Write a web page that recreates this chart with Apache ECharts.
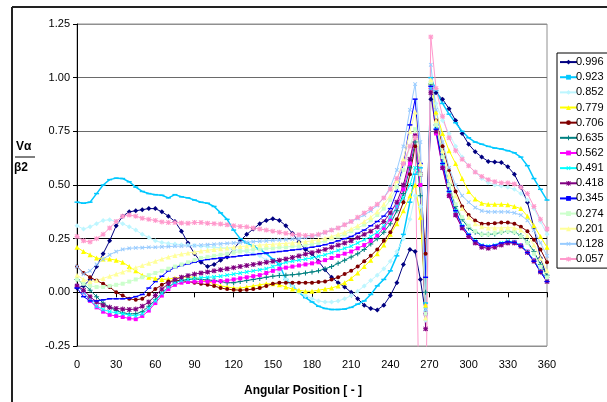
<!DOCTYPE html>
<html><head><meta charset="utf-8">
<script src="https://cdn.jsdelivr.net/npm/echarts@6/dist/echarts.min.js"></script>
<style>html,body{margin:0;padding:0;background:#fff}#c{width:607px;height:402px}</style>
</head><body><div id="c"></div>
<script>
const angles = [0,5,10,15,20,25,30,35,40,45,50,55,60,65,70,75,80,85,90,95,100,105,110,115,120,125,130,135,140,145,150,155,160,165,170,175,180,185,190,195,200,205,210,215,220,225,230,235,240,245,250,255,259,263,267,271,275,280,285,290,295,300,305,310,315,320,325,330,335,340,345,350,355,360];
const seriesNames = ['0.996','0.923','0.852','0.779','0.706','0.635','0.562','0.491','0.418','0.345','0.274','0.201','0.128','0.057'];
const yTicks = [-0.25,0,0.25,0.5,0.75,1,1.25];
const xTicks = [0,30,60,90,120,150,180,210,240,270,300,330,360];

const v0996 = [0.02,0.03,0.06,0.12,0.18,0.24,0.31,0.355,0.375,0.38, 0.385,0.39,0.39,0.375,0.355,0.33,0.285,0.23,0.18,0.14, 0.12,0.13,0.15,0.165,0.2,0.24,0.27,0.295,0.32,0.335, 0.343,0.335,0.31,0.275,0.235,0.2,0.18,0.145,0.105,0.07, 0.045,0.025,0.0,-0.03,-0.06,-0.075,-0.082,-0.06,-0.015,0.045, 0.13,0.2,0.19,0.06,-0.1,0.9,0.93,0.9,0.855,0.8, 0.74,0.69,0.655,0.63,0.61,0.607,0.605,0.585,0.55,0.49, 0.42,0.3,0.16,0.07];
const v0923 = [0.42,0.415,0.42,0.46,0.5,0.525,0.532,0.53,0.515,0.49, 0.47,0.46,0.455,0.452,0.44,0.455,0.445,0.44,0.43,0.42, 0.415,0.4,0.37,0.34,0.29,0.25,0.23,0.215,0.2,0.18, 0.155,0.13,0.06,0.03,0.0,-0.025,-0.045,-0.065,-0.075,-0.08, -0.08,-0.078,-0.07,-0.055,-0.04,-0.01,0.03,0.06,0.1,0.17, 0.27,0.42,0.55,0.58,-0.05,1.0,0.94,0.88,0.83,0.79, 0.75,0.72,0.7,0.69,0.68,0.672,0.668,0.66,0.65,0.63, 0.59,0.53,0.48,0.43];
const v0852 = [0.31,0.295,0.305,0.32,0.335,0.338,0.33,0.32,0.305,0.29, 0.27,0.255,0.24,0.232,0.228,0.225,0.222,0.22,0.218,0.215, 0.212,0.21,0.208,0.205,0.2,0.195,0.19,0.18,0.17,0.15, 0.12,0.09,0.06,0.03,0.0,-0.015,-0.03,-0.04,-0.045,-0.045, -0.04,-0.03,-0.015,0.005,0.03,0.055,0.08,0.11,0.145,0.19, 0.25,0.34,0.45,0.4,-0.13,0.98,0.88,0.8,0.74,0.68, 0.63,0.59,0.56,0.53,0.51,0.5,0.495,0.49,0.48,0.46, 0.43,0.39,0.33,0.27];
const v0779 = [0.21,0.19,0.175,0.16,0.155,0.155,0.15,0.14,0.12,0.1, 0.08,0.07,0.065,0.06,0.062,0.066,0.07,0.072,0.07,0.06, 0.05,0.04,0.03,0.025,0.02,0.02,0.025,0.03,0.035,0.04, 0.04,0.035,0.025,0.015,0.01,0.005,0.005,0.01,0.015,0.02, 0.03,0.045,0.065,0.09,0.12,0.15,0.18,0.22,0.27,0.32, 0.38,0.45,0.5,0.35,-0.06,0.98,0.84,0.74,0.66,0.6, 0.53,0.47,0.435,0.415,0.41,0.41,0.41,0.408,0.4,0.39, 0.355,0.31,0.26,0.21];
const v0706 = [0.12,0.09,0.07,0.055,0.04,0.025,0.0,-0.015,-0.03,-0.035, -0.03,-0.01,0.015,0.035,0.05,0.055,0.055,0.05,0.045,0.04, 0.035,0.03,0.02,0.015,0.012,0.01,0.012,0.015,0.02,0.03, 0.04,0.045,0.045,0.045,0.045,0.045,0.045,0.048,0.05,0.06, 0.07,0.085,0.1,0.12,0.145,0.17,0.2,0.24,0.28,0.34, 0.42,0.55,0.68,0.5,0.18,0.95,0.8,0.68,0.57,0.47, 0.4,0.36,0.335,0.32,0.32,0.322,0.325,0.325,0.32,0.305, 0.285,0.245,0.2,0.14];
const v0635 = [0.06,0.04,0.01,-0.02,-0.05,-0.07,-0.085,-0.095,-0.1,-0.1, -0.09,-0.065,-0.035,-0.005,0.025,0.045,0.055,0.06,0.062,0.06, 0.058,0.055,0.05,0.045,0.045,0.05,0.055,0.06,0.065,0.07, 0.075,0.078,0.08,0.082,0.085,0.09,0.095,0.1,0.11,0.12, 0.135,0.15,0.165,0.18,0.2,0.225,0.25,0.28,0.32,0.38, 0.46,0.58,0.7,0.45,0.0,0.97,0.78,0.63,0.5,0.4, 0.34,0.3,0.28,0.27,0.27,0.272,0.28,0.285,0.28,0.265, 0.235,0.19,0.13,0.08];
const v0562 = [0.03,0.0,-0.04,-0.07,-0.09,-0.105,-0.11,-0.115,-0.122,-0.125, -0.11,-0.085,-0.05,-0.015,0.015,0.035,0.045,0.048,0.05,0.05, 0.05,0.05,0.052,0.055,0.06,0.065,0.07,0.075,0.08,0.09, 0.1,0.11,0.115,0.12,0.125,0.13,0.135,0.14,0.15,0.16, 0.17,0.18,0.19,0.205,0.22,0.24,0.265,0.3,0.34,0.4, 0.48,0.6,0.73,0.5,-0.1,0.95,0.74,0.58,0.45,0.36, 0.3,0.26,0.235,0.215,0.21,0.215,0.225,0.235,0.235,0.22, 0.19,0.15,0.1,0.06];
const v0491 = [0.03,0.0,-0.035,-0.065,-0.08,-0.09,-0.095,-0.1,-0.105,-0.11, -0.1,-0.075,-0.04,-0.005,0.025,0.045,0.055,0.06,0.065,0.068, 0.07,0.072,0.075,0.08,0.085,0.09,0.095,0.1,0.105,0.11, 0.12,0.13,0.14,0.145,0.15,0.155,0.16,0.168,0.175,0.185, 0.195,0.205,0.215,0.23,0.245,0.26,0.28,0.31,0.35,0.4, 0.44,0.5,0.58,0.55,-0.08,0.95,0.76,0.6,0.47,0.38, 0.31,0.27,0.24,0.22,0.215,0.22,0.23,0.238,0.235,0.22, 0.19,0.15,0.1,0.06];
const v0418 = [0.03,0.01,-0.02,-0.045,-0.06,-0.07,-0.075,-0.078,-0.08,-0.078, -0.065,-0.045,-0.015,0.015,0.04,0.06,0.07,0.078,0.085,0.09, 0.095,0.1,0.105,0.11,0.115,0.12,0.125,0.13,0.135,0.14, 0.145,0.15,0.155,0.162,0.17,0.178,0.185,0.192,0.2,0.21, 0.22,0.23,0.24,0.255,0.27,0.285,0.305,0.33,0.37,0.42, 0.5,0.62,0.73,0.55,-0.17,0.93,0.75,0.58,0.45,0.36, 0.3,0.26,0.23,0.21,0.205,0.21,0.22,0.23,0.23,0.215, 0.185,0.145,0.095,0.05];
const v0345 = [0.02,-0.02,-0.04,-0.04,-0.035,-0.03,-0.03,-0.03,-0.028,-0.02, -0.01,0.02,0.05,0.075,0.1,0.115,0.125,0.132,0.14,0.148, 0.153,0.157,0.16,0.163,0.166,0.17,0.173,0.176,0.18,0.183, 0.186,0.19,0.193,0.197,0.2,0.205,0.21,0.215,0.222,0.23, 0.24,0.25,0.26,0.275,0.29,0.31,0.33,0.355,0.39,0.47, 0.6,0.78,0.9,0.6,0.07,0.96,0.76,0.6,0.47,0.38, 0.31,0.27,0.24,0.22,0.215,0.22,0.23,0.235,0.232,0.215, 0.185,0.145,0.095,0.05];
const v0274 = [0.06,0.04,0.03,0.025,0.025,0.03,0.035,0.04,0.05,0.06, 0.07,0.08,0.09,0.1,0.11,0.12,0.13,0.14,0.15,0.16, 0.165,0.17,0.175,0.18,0.185,0.19,0.195,0.2,0.2,0.205, 0.205,0.21,0.21,0.215,0.215,0.22,0.225,0.23,0.24,0.25, 0.26,0.27,0.285,0.3,0.315,0.335,0.36,0.39,0.43,0.49, 0.57,0.68,0.76,0.55,-0.1,0.98,0.78,0.63,0.5,0.41, 0.35,0.31,0.285,0.27,0.27,0.275,0.28,0.285,0.28,0.26, 0.23,0.18,0.12,0.07];
const v0201 = [0.08,0.06,0.05,0.055,0.065,0.075,0.085,0.095,0.105,0.115, 0.125,0.135,0.145,0.155,0.165,0.172,0.178,0.183,0.188,0.192, 0.196,0.2,0.203,0.207,0.21,0.213,0.216,0.218,0.22,0.222, 0.224,0.226,0.228,0.23,0.233,0.236,0.24,0.245,0.252,0.26, 0.27,0.28,0.295,0.31,0.33,0.35,0.375,0.41,0.45,0.52, 0.62,0.75,0.84,0.6,-0.12,0.99,0.8,0.66,0.54,0.45, 0.39,0.35,0.32,0.305,0.3,0.3,0.3,0.302,0.3,0.29, 0.265,0.22,0.16,0.1];
const v0128 = [0.12,0.085,0.1,0.13,0.155,0.175,0.19,0.2,0.205,0.207, 0.208,0.21,0.21,0.212,0.213,0.215,0.215,0.217,0.218,0.22, 0.222,0.224,0.226,0.228,0.23,0.232,0.234,0.236,0.238,0.24, 0.242,0.244,0.246,0.248,0.25,0.255,0.26,0.268,0.278,0.29, 0.3,0.315,0.33,0.345,0.36,0.38,0.405,0.44,0.49,0.57, 0.68,0.85,0.97,0.7,-0.08,1.06,0.85,0.7,0.58,0.5, 0.45,0.42,0.395,0.38,0.375,0.375,0.375,0.375,0.37,0.36, 0.335,0.29,0.23,0.17];
const v0057 = [0.26,0.24,0.235,0.25,0.27,0.3,0.33,0.355,0.36,0.355, 0.345,0.34,0.335,0.328,0.325,0.325,0.323,0.322,0.325,0.325, 0.322,0.32,0.318,0.315,0.31,0.307,0.305,0.3,0.295,0.29, 0.285,0.28,0.275,0.27,0.268,0.265,0.265,0.27,0.28,0.29, 0.3,0.315,0.33,0.35,0.37,0.39,0.41,0.44,0.48,0.53, 0.6,0.68,0.72,-1.0,-0.6,1.19,0.95,0.82,0.72,0.66, 0.62,0.59,0.56,0.54,0.525,0.515,0.51,0.51,0.505,0.49, 0.46,0.4,0.34,0.295];

const valueArrays = [v0996,v0923,v0852,v0779,v0706,v0635,v0562,v0491,v0418,v0345,v0274,v0201,v0128,v0057];

const PLUS = 'path://M4,0H6V4H10V6H6V10H4V6H0V4H4Z';
const STAR = 'path://M4,0H6V4H10V6H6V10H4V6H0V4H4Z M1.5,0.1L5,3.6L8.5,0.1L9.9,1.5L6.4,5L9.9,8.5L8.5,9.9L5,6.4L1.5,9.9L0.1,8.5L3.6,5L0.1,1.5Z';
const styles = [
  {c:'#000080', s:'diamond', z:5},
  {c:'#00C8FF', s:'rect', z:[5,1.5], w:1.5},
  {c:'#BDF6FF', s:'diamond', z:5},
  {c:'#FFFF00', s:'triangle', z:5},
  {c:'#800000', s:'circle', z:4},
  {c:'#008080', s:PLUS, z:5},
  {c:'#FF00FF', s:'rect', z:4},
  {c:'#00FFFF', s:PLUS, z:5, r:45},
  {c:'#800080', s:STAR, z:5},
  {c:'#0000FF', s:'rect', z:[5,1.5]},
  {c:'#CCFFCC', s:'rect', z:4},
  {c:'#FFFF99', s:'triangle', z:5},
  {c:'#99CCFF', s:PLUS, z:5, r:45},
  {c:'#FF99CC', s:STAR, z:5}
];

const FONT = 'Liberation Sans, Arial, sans-serif';
const series = seriesNames.map((n,i)=>({
  name:n, type:'line', xAxisIndex:0, yAxisIndex:0,
  data: angles.map((a,k)=>[a, valueArrays[i][k]]),
  symbol: styles[i].s, symbolSize: styles[i].z, symbolRotate: styles[i].r||0,
  showSymbol:true,
  lineStyle:{color:styles[i].c, width: styles[i].w||1},
  itemStyle:{color:styles[i].c},
  emphasis:{disabled:true},
  clip:true
}));

const chart = echarts.init(document.getElementById('c'), null, {renderer:'canvas'});
chart.setOption({
  animation:false,
  backgroundColor:'#fff',
  grid:{left:77, right:60, top:24, bottom:56, show:true, borderColor:'#909090', borderWidth:1, containLabel:false, outerBoundsMode:'none'},
  xAxis:[
    {type:'value', position:'bottom', min:xTicks[0], max:xTicks[xTicks.length-1], interval:30,
     axisLine:{show:false, onZero:false}, axisTick:{show:false},
     axisLabel:{margin:13, color:'#000', fontSize:11, fontFamily:FONT},
     splitLine:{show:false}},
    {type:'value', position:'top', min:xTicks[0], max:xTicks[xTicks.length-1], interval:30,
     axisLine:{show:true, onZero:true, lineStyle:{color:'#000', width:1}},
     axisTick:{show:true, inside:true, length:5, lineStyle:{color:'#000'}},
     axisLabel:{show:false}, splitLine:{show:false}}
  ],
  yAxis:{type:'value', min:yTicks[0], max:yTicks[yTicks.length-1], interval:0.25,
    axisLine:{show:true, lineStyle:{color:'#000'}},
    axisTick:{show:true, length:4, lineStyle:{color:'#000'}},
    axisLabel:{margin:7, color:'#000', fontSize:11, fontFamily:FONT, formatter:v=>v.toFixed(2)},
    splitLine:{show:true, lineStyle:{color:['#909090','#000','#000','#000','#6a6a6a','#6a6a6a','#909090'], width:1}}},
  legend:{orient:'vertical', left:557, top:53, data:seriesNames,
    itemWidth:17, itemHeight:6, itemGap:3, padding:[3,20,3,2],
    borderColor:'#000', borderWidth:1, backgroundColor:'#fff',
    textStyle:{fontSize:11, fontFamily:FONT, color:'#000', lineHeight:12.15, padding:[0,0,0,-6]}},
  graphic:[
    {type:'line', shape:{x1:12, y1:7, x2:12, y2:402}, style:{stroke:'#222', lineWidth:2}},
    {type:'line', shape:{x1:12, y1:7, x2:607, y2:7}, style:{stroke:'#222', lineWidth:2}},
    {type:'text', left:16, top:141, style:{text:'Vα', font:'bold 12px '+FONT, fill:'#000'}},
    {type:'line', shape:{x1:15, y1:157, x2:35, y2:157}, style:{stroke:'#000', lineWidth:1}},
    {type:'text', left:14, top:162, style:{text:'β2', font:'bold 12px '+FONT, fill:'#000'}},
    {type:'text', left:244, top:385, style:{text:'Angular Position [ - ]', font:'bold 12px '+FONT, fill:'#000'}}
  ],
  series: series
});
</script></body></html>
